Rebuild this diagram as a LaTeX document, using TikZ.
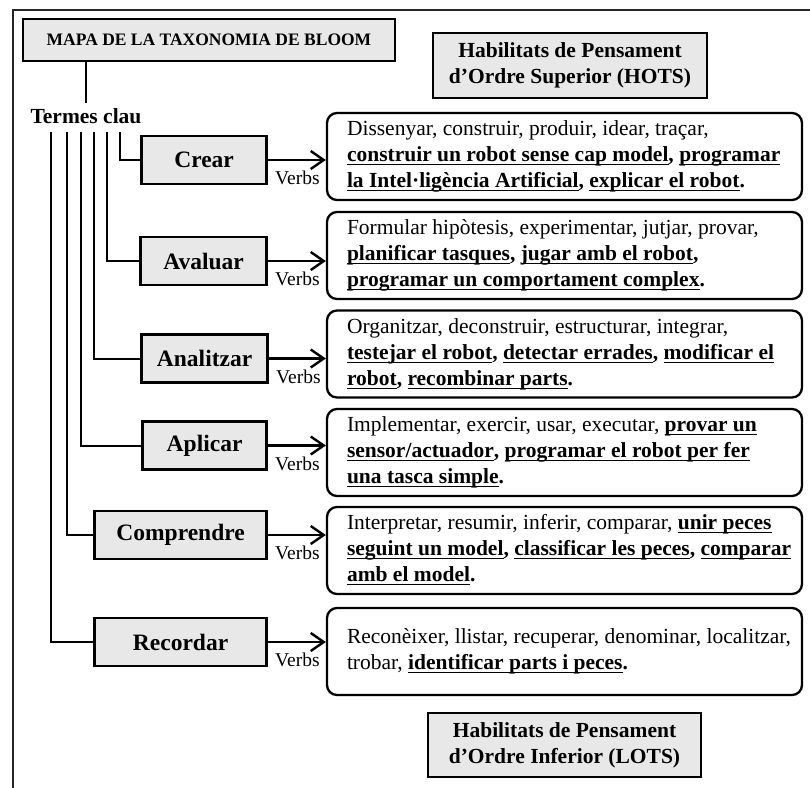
\documentclass[tikz,border=0pt]{standalone}
\usepackage{fontspec}
\setmainfont{Liberation Serif}
\usetikzlibrary{arrows.meta,calc}
\newcommand\myul[1]{\leavevmode\setbox0\hbox{#1}\rlap{\rule[-3.5pt]{\wd0}{1.2pt}}\box0}
\newcommand\boxtext[1]{\makebox[435pt][l]{\begin{tabular}{@{}l@{}}#1\end{tabular}}}
\begin{document}
\begin{tikzpicture}[x=1pt,y=-1pt,
  frame/.style={line width=2.2pt, draw=black!85},
  graybox/.style={draw, line width=2.8pt, fill=gray!18, inner sep=0pt},
  lvl/.style={graybox, minimum height=48pt, anchor=east, font=\fontsize{23.5}{26}\selectfont\bfseries},
  txtbox/.style={draw, line width=2.3pt, rounded corners=10pt, minimum width=475pt, minimum height=87pt, inner xsep=20pt, inner ysep=0pt, font=\fontsize{21.5}{26}\selectfont},
  conn/.style={line width=2pt},
  arr/.style={line width=2.4pt, -{Straight Barb[length=13pt,width=18pt,line width=2.4pt]}},
  verbs/.style={font=\fontsize{19.5}{22}\selectfont, inner sep=1pt, anchor=north west, xshift=5pt, yshift=-9pt}
]
\useasboundingbox (0,0) rectangle (810,787);
\fill[white] (0,0) rectangle (810,787);
\draw[frame] (812,10) -- (13,10) -- (13,789);

\node[graybox, minimum width=372pt, minimum height=42pt, font=\fontsize{17.5}{20}\selectfont\bfseries] (title) at (209,40) {MAPA DE LA TAXONOMIA DE BLOOM};
\node[graybox, minimum width=274pt, minimum height=65pt, align=center, font=\fontsize{21.5}{26}\selectfont\bfseries] (hots) at (570,65.5) {Habilitats de Pensament\\d’Ordre Superior (HOTS)};
\node[graybox, minimum width=273pt, minimum height=64pt, align=center, font=\fontsize{21.5}{26}\selectfont\bfseries] (lots) at (564.5,745) {Habilitats de Pensament\\d’Ordre Inferior (LOTS)};

\node[inner sep=5pt, font=\fontsize{21.5}{24}\selectfont\bfseries] (termes) at (86,116) {Termes clau};
\draw[conn] (title.south -| termes.north) -- (termes.north);

\node[lvl, minimum width=125pt] (crear) at (268,160) {Crear};
\node[lvl, minimum width=126pt] (avaluar) at (268,261) {Avaluar};
\node[lvl, minimum width=126pt] (analitzar) at (269,358.5) {Analitzar};
\node[lvl, minimum width=124pt] (aplicar) at (268,445.5) {Aplicar};
\node[lvl, minimum width=172pt] (comprendre) at (268,535) {Comprendre};
\node[lvl, minimum width=172pt] (recordar) at (268,642) {Recordar};

\coordinate (k1) at (120,132);
\coordinate (k2) at (107,132);
\coordinate (k3) at (94,132);
\coordinate (k4) at (81,132);
\coordinate (k5) at (67,132);
\coordinate (k6) at (51,132);
\draw[conn] (k1) |- (crear.west);
\draw[conn] (k2) |- (avaluar.west);
\draw[conn] (k3) |- (analitzar.west);
\draw[conn] (k4) |- (aplicar.west);
\draw[conn] (k5) |- (comprendre.west);
\draw[conn] (k6) |- (recordar.west);

\node[txtbox] (t1) at (564.5,156.5) {\boxtext{%
Dissenyar, construir, produir, idear, traçar,\\
\textbf{\myul{construir un robot sense cap model}, \myul{programar}}\\
\textbf{\myul{la Intel·ligència Artificial}, \myul{explicar el robot}.}}};
\node[txtbox] (t2) at (564.5,255.5) {\boxtext{%
Formular hipòtesis, experimentar, jutjar, provar,\\
\textbf{\myul{planificar tasques}, \myul{jugar amb el robot},}\\
\textbf{\myul{programar un comportament complex}.}}};
\node[txtbox] (t3) at (564.5,354) {\boxtext{%
Organitzar, deconstruir, estructurar, integrar,\\
\textbf{\myul{testejar el robot}, \myul{detectar errades}, \myul{modificar el}}\\
\textbf{\myul{robot}, \myul{recombinar parts}.}}};
\node[txtbox] (t4) at (564.5,452.5) {\boxtext{%
Implementar, exercir, usar, executar, \textbf{\myul{provar un}}\\
\textbf{\myul{sensor/actuador}, \myul{programar el robot per fer}}\\
\textbf{\myul{una tasca simple}.}}};
\node[txtbox] (t5) at (564.5,550.5) {\boxtext{%
Interpretar, resumir, inferir, comparar, \textbf{\myul{unir peces}}\\
\textbf{\myul{seguint un model}, \myul{classificar les peces}, \myul{comparar}}\\
\textbf{\myul{amb el model}.}}};
\node[txtbox] (t6) at (564.5,651.5) {\boxtext{%
Reconèixer, llistar, recuperar, denominar, localitzar,\\
trobar, \textbf{\myul{identificar parts i peces}.}}};

\draw[arr] (crear.east) -- node[verbs, pos=0] (v1) {Verbs} (crear.east -| t1.west);
\draw[arr] (avaluar.east) -- node[verbs, pos=0] (v2) {Verbs} (avaluar.east -| t2.west);
\draw[arr] (analitzar.east) -- node[verbs, pos=0] (v3) {Verbs} (analitzar.east -| t3.west);
\draw[arr] (aplicar.east) -- node[verbs, pos=0] (v4) {Verbs} (aplicar.east -| t4.west);
\draw[arr] (comprendre.east) -- node[verbs, pos=0] (v5) {Verbs} (comprendre.east -| t5.west);
\draw[arr] (recordar.east) -- node[verbs, pos=0] (v6) {Verbs} (recordar.east -| t6.west);
\end{tikzpicture}
\end{document}
